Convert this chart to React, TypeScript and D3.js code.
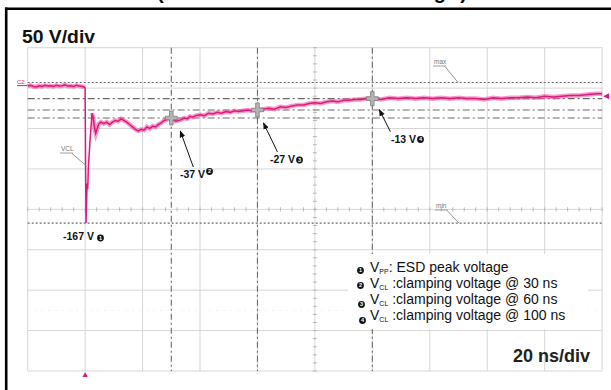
import React, { useEffect, useRef } from 'react';
import * as d3 from 'd3';

// trace: time in ns, voltage in V
const traceTimes = [
  -20, -19, -18, -17, -16, -15, -14, -13, -12, -11, -10, -9, -8, -7, -6, -5, -4, -3, -2, -1, -0.3,
  0, 0.15, 0.3, 0.5, 0.7, 0.9, 1.1, 1.7, 2.4, 2.8, 3.3, 3.7, 4.2, 4.8, 5.5,
  6.5, 7.5, 8.5, 9.5, 10.5, 11.5, 12.5, 13.5, 14.5, 15.5, 16.5, 17.5, 18.5, 19.5, 20.5, 21.5, 22.5,
  23.5, 24.5, 25.5, 26.5, 27.5, 28.5, 29.5, 30.5, 31.5, 32.5, 33.5, 34.5, 35.5, 36.5, 37.5, 38.5,
  40, 41.5, 43, 44.5, 46, 47.5, 49, 50.5, 52, 53.5, 55, 56.5, 58, 60, 62, 64, 66, 68, 70, 72, 74,
  76, 78, 80, 82, 84, 86, 88, 90, 92, 94, 96, 98, 100, 103, 106, 109, 112, 115, 118, 121, 124,
  127, 130, 133, 136, 139, 142, 145, 148, 151, 154, 157, 160, 163, 166, 169, 172, 175, 178, 180,
];
const traceVolts = [
  2.5, 3.5, 2, 1.5, 3, 2, 3.5, 2.5, 3, 2, 3.5, 2.5, 3, 4, 2.5, 3, 2, 3.5, 2.5, 2, 1.5,
  0, -90, -167, -140, -118, -125, -100, -65, -31, -36, -50, -56, -50, -44, -42,
  -44, -42, -45, -42, -40, -41, -38, -40, -42, -45, -48, -51, -53, -51, -52, -48, -50,
  -47, -48, -45, -43, -40, -39, -37, -38, -41, -40, -39, -37, -38, -35, -36, -34,
  -33, -34, -31, -32, -30, -31, -29, -30, -28, -29, -28, -27, -28, -27, -26, -25, -26, -23, -24, -22, -21,
  -21, -19, -18, -19, -17, -16, -17, -15, -15, -14, -14, -13, -13, -14, -12, -13, -12, -13, -12, -13, -12,
  -13, -12, -13, -13, -14, -12, -13, -12, -12, -11, -12, -10, -11, -10, -9, -9, -8, -7, -7,
];

const cursorTimes = [30, 60, 100];
const cursorVolts = [-37, -27, -13];
const cursorLabels = ['-37 V', '-27 V', '-13 V'];
const peakTime = 0.3;
const peakVolt = -167;
const peakLabel = '-167 V';
const maxVolt = 7;
const trigLevel = -10;
const legendSubs = ['PP', 'CL', 'CL', 'CL'];
const legendTexts = [': ESD peak voltage', ' :clamping voltage @ 30 ns', ' :clamping voltage @ 60 ns', ' :clamping voltage @ 100 ns'];
const timeTicks = d3.range(-20, 181, 20);
const voltTicks = d3.range(50, -351, -50);

export default function App() {
  const svgRef = useRef<SVGSVGElement>(null);
  const width = 611;
  const height = 390;

  useEffect(() => {
    if (!svgRef.current) return;
    const svg = d3.select(svgRef.current);
    svg.selectAll('*').remove();
    const font = 'Liberation Sans, Arial, sans-serif';
    const pink = '#e2177e';

    const x = d3.scaleLinear().domain([-20, 180]).range([27.7, 602.1]);
    const y = d3.scaleLinear().domain([50, -350]).range([47.7, 371]);
    const [x0, x1] = x.range();
    const [y0, y1] = y.range();

    svg.append('rect').attr('width', width).attr('height', height).attr('fill', '#fff');

    // partial title cut by the frame
    svg.append('text').attr('x', 157).attr('y', -1).attr('textLength', 310).attr('lengthAdjust', 'spacing')
      .attr('font-family', font).attr('font-weight', 'bold').attr('font-size', 20).text('(−8 kV Contact ESD Voltage)');

    // grid
    const grid = svg.append('g').attr('stroke', '#d6d6d6').attr('stroke-width', 1);
    timeTicks.forEach(t => grid.append('line').attr('x1', x(t)).attr('x2', x(t)).attr('y1', y0).attr('y2', y1));
    voltTicks.forEach(v => grid.append('line').attr('x1', x0).attr('x2', x1).attr('y1', y(v)).attr('y2', y(v)));
    // minor ticks on centre axes
    const cx = x(80), cy = y(-150);
    d3.range(-20, 180.1, 4).forEach(t => grid.append('line').attr('x1', x(t)).attr('x2', x(t)).attr('y1', cy - 2).attr('y2', cy + 2).attr('stroke', '#b8b8b8'));
    d3.range(50, -350.1, -10).forEach(v => grid.append('line').attr('x1', cx - 2).attr('x2', cx + 2).attr('y1', y(v)).attr('y2', y(v)).attr('stroke', '#b8b8b8'));
    svg.append('line').attr('x1', x0).attr('x2', x1).attr('y1', y(-275)).attr('y2', y(-275))
      .attr('stroke', '#e2e2e2').attr('stroke-dasharray', '1,6');

    // cursors
    const cur = svg.append('g').attr('stroke', '#6a6a6a').attr('stroke-width', 1.1).attr('fill', 'none');
    [maxVolt, peakVolt].forEach(v => cur.append('line').attr('x1', x0).attr('x2', x1).attr('y1', y(v)).attr('y2', y(v)).attr('stroke-dasharray', '2,2'));
    cursorVolts.forEach(v => cur.append('line').attr('x1', x0).attr('x2', x1).attr('y1', y(v)).attr('y2', y(v)).attr('stroke-dasharray', '7,3,2,3'));
    cursorTimes.forEach(t => cur.append('line').attr('x1', x(t)).attr('x2', x(t)).attr('y1', y0).attr('y2', y1).attr('stroke-dasharray', '6,3,2,3'));

    // trace
    const pts = traceTimes.map((t, i) => ({ t, v: traceVolts[i] }));
    const band = d3.line<any>().defined(d => d.t < 0 || d.t > 2.3).x(d => x(d.t)).y(d => y(d.v));
    const line = d3.line<any>().x(d => x(d.t)).y(d => y(d.v));
    svg.append('path').datum(pts).attr('fill', 'none').attr('stroke', '#ee5aa2').attr('stroke-opacity', 0.6).attr('stroke-width', 4.5).attr('d', band);
    svg.append('path').datum(pts).attr('fill', 'none').attr('stroke', pink).attr('stroke-width', 1.5).attr('d', line);

    // channel / trigger markers
    svg.append('text').attr('x', 17).attr('y', y(0) - 4).attr('fill', pink).attr('font-family', font).attr('font-size', 6).text('C2');
    svg.append('line').attr('x1', 17).attr('x2', 27).attr('y1', y(0) - 2.5).attr('y2', y(0) - 2.5).attr('stroke', pink).attr('stroke-width', 1);
    const tx = x(0);
    svg.append('path').attr('d', `M${tx - 2.6},${y1 + 6}L${tx},${y1 + 1}L${tx + 2.6},${y1 + 6}Z`).attr('fill', pink);
    const ty = y(trigLevel);
    svg.append('path').attr('d', `M${x1 + 1},${ty}L${x1 + 7},${ty - 3}L${x1 + 7},${ty + 3}Z`).attr('fill', pink);

    // cursor cross markers
    const plus = (px: number, py: number) => {
      const a = 6, b = 7, w = 1.8;
      return `M${px - w},${py - b}H${px + w}V${py - w}H${px + a}V${py + w}H${px + w}V${py + b}H${px - w}V${py + w}H${px - a}V${py - w}H${px - w}Z`;
    };
    cursorTimes.forEach((t, i) => svg.append('path').attr('d', plus(x(t), y(cursorVolts[i])))
      .attr('fill', '#b4b4b4').attr('stroke', '#747474').attr('stroke-width', 0.7));

    // small scope labels
    const scopeLabel = (lx: number, ly: number, txt: string, ex: number, ey: number) => {
      svg.append('text').attr('x', lx).attr('y', ly).attr('fill', '#777').attr('font-family', font).attr('font-size', 6.5).text(txt);
      svg.append('line').attr('x1', lx - 1).attr('x2', lx + 12).attr('y1', ly + 2).attr('y2', ly + 2).attr('stroke', '#888').attr('stroke-width', 0.8);
      svg.append('line').attr('x1', lx + 11).attr('x2', ex).attr('y1', ly + 2.5).attr('y2', ey).attr('stroke', '#888').attr('stroke-width', 0.9);
    };
    scopeLabel(61, 151, 'VCL', x(peakTime) + 0.5, 166);
    scopeLabel(434, 64, 'max', 458, y(maxVolt));
    scopeLabel(436, 208, 'min', 459, y(peakVolt));

    // numbered bullet
    const bullet = (bx: number, by: number, n: number) => {
      svg.append('circle').attr('cx', bx).attr('cy', by).attr('r', 3.4).attr('fill', '#111');
      svg.append('text').attr('x', bx).attr('y', by + 1.9).attr('text-anchor', 'middle').attr('fill', '#fff')
        .attr('font-family', font).attr('font-weight', 'bold').attr('font-size', 5.5).text(n);
    };

    // value annotations
    const boldText = (lx: number, ly: number, txt: string) =>
      svg.append('text').attr('x', lx).attr('y', ly).attr('font-family', font).attr('font-weight', 'bold').attr('font-size', 10.5).attr('fill', '#111').text(txt);
    boldText(63, 239.5, peakLabel);
    bullet(100.5, 238, 1);

    const ann = [
      { lx: 180, ly: 177.5, bx: 209.5, by: 171.5, tail: [22, 49], head: [9, 13] },
      { lx: 270, ly: 163, bx: 299.5, by: 160, tail: [20, 42], head: [6, 13] },
      { lx: 391, ly: 143, bx: 420.5, by: 139.5, tail: [18, 33], head: [7, 11] },
    ];
    const defs = svg.append('defs');
    defs.append('marker').attr('id', 'ah').attr('viewBox', '0 0 10 10').attr('refX', 9).attr('refY', 5)
      .attr('markerWidth', 7).attr('markerHeight', 7).attr('orient', 'auto')
      .append('path').attr('d', 'M0,1L10,5L0,9Z').attr('fill', '#111');
    cursorTimes.forEach((t, i) => {
      const a = ann[i];
      const px = x(t), py = y(cursorVolts[i]);
      svg.append('line').attr('x1', px + a.tail[0]).attr('y1', py + a.tail[1]).attr('x2', px + a.head[0]).attr('y2', py + a.head[1])
        .attr('stroke', '#111').attr('stroke-width', 1).attr('marker-end', 'url(#ah)');
      boldText(a.lx, a.ly, cursorLabels[i]);
      bullet(a.bx, a.by, i + 2);
    });

    // legend
    svg.append('rect').attr('x', 348).attr('y', 254).attr('width', 240).attr('height', 75).attr('fill', '#fff');
    const bulletPos = [[360.5, 270.5], [360.5, 285.5], [361.5, 304.5], [362.5, 320.5]];
    legendTexts.forEach((txt, i) => {
      const ly = 272.3 + i * 15.9;
      bullet(bulletPos[i][0], bulletPos[i][1], i + 1);
      const t = svg.append('text').attr('x', 370).attr('y', ly).attr('font-family', font).attr('font-size', 14).attr('fill', '#111');
      t.append('tspan').text('V');
      t.append('tspan').attr('font-size', 7).attr('dy', 2).text(legendSubs[i]);
      t.append('tspan').attr('dy', -2).text(txt);
    });

    // scale labels
    svg.append('text').attr('x', 22).attr('y', 43).attr('textLength', 73).attr('lengthAdjust', 'spacingAndGlyphs')
      .attr('font-family', font).attr('font-weight', 'bold').attr('font-size', 18).attr('fill', '#111').text('50 V/div');
    svg.append('text').attr('x', 590).attr('y', 362).attr('text-anchor', 'end')
      .attr('font-family', font).attr('font-weight', 'bold').attr('font-size', 18).attr('fill', '#222').text('20 ns/div');

    // outer frame
    svg.append('line').attr('x1', 5).attr('x2', width).attr('y1', 8.8).attr('y2', 8.8).attr('stroke', '#000').attr('stroke-width', 2.6);
    svg.append('line').attr('x1', 6.2).attr('x2', 6.2).attr('y1', 7.5).attr('y2', height).attr('stroke', '#000').attr('stroke-width', 2.6);
  }, []);

  return <svg ref={svgRef} width={width} height={height} viewBox={`0 0 ${width} ${height}`}
    style={{ position: 'absolute', left: 0, top: 0, display: 'block' }} />;
}
